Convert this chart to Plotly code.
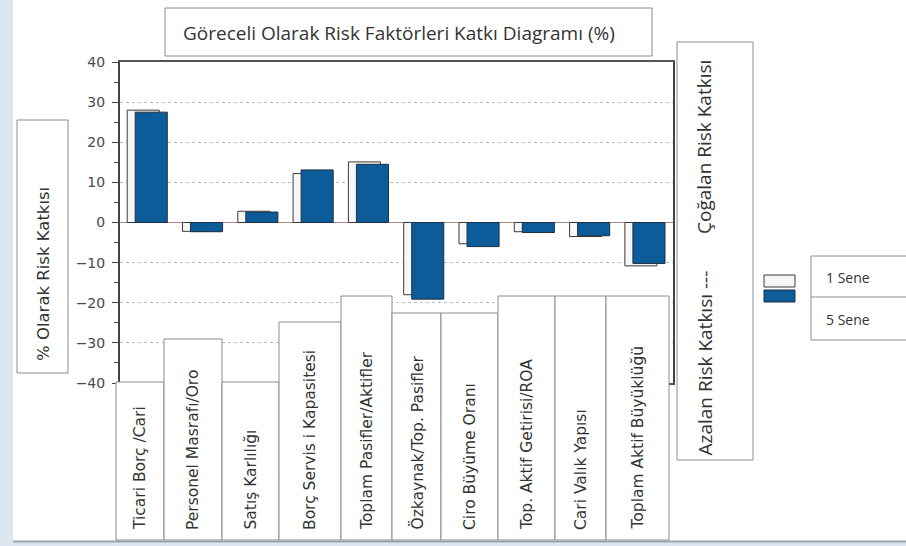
import plotly.graph_objects as go

# ---------------- data ----------------
categories = [
    "Ticari Borç /Cari",
    "Personel Masrafı/Oro",
    "Satış Karlılığı",
    "Borç Servis i Kapasitesi",
    "Toplam Pasifler/Aktifler",
    "Özkaynak/Top. Pasifler",
    "Ciro Büyüme Oranı",
    "Top. Aktif Getirisi/ROA",
    "Cari Valık Yapısı",
    "Toplam Aktif Büyüklüğü",
]
sene1 = [28.0, -2.2, 2.8, 12.2, 15.1, -18.0, -5.3, -2.3, -3.5, -10.8]
sene5 = [27.5, -2.3, 2.6, 13.1, 14.5, -19.1, -6.0, -2.5, -3.3, -10.2]
series_names = ["1 Sene", "5 Sene"]
y_ticks = [-40, -30, -20, -10, 0, 10, 20, 30, 40]

title_text = "Göreceli Olarak Risk Faktörleri Katkı Diagramı (%)"
y_title = "% Olarak Risk Katkısı"
right_low = "Azalan Risk Katkısı ---"
right_high = "Çoğalan Risk Katkısı"

# ---------------- layout geometry (pixels) ----------------
W, H = 906, 546
PL, PR, PT, PB = 120, 673, 62, 383  # plot area


def fx(px):
    return (px - PL) / (PR - PL)


def fy(py):
    return (PB - py) / (PB - PT)


# label boxes below the plot: left, right, top (px)
box_left = [116, 164, 222, 279, 341, 392, 441, 498, 555, 606]
box_right = [164, 222, 279, 341, 392, 441, 498, 555, 606, 669]
box_top = [382, 339, 382, 322, 296, 313, 313, 296, 296, 296]
box_bottom = 540

BLUE = "#0b5c99"
WHITE_BAR = "#f7f7f7"
BOX_LINE = "#8c8c8c"
TEXT = "#333333"
FONT = "Open Sans"
WIDE = "DejaVu Sans"

fig = go.Figure()
fig.add_trace(go.Bar(
    x=categories, y=sene1, name=series_names[0],
    width=0.58, offset=-0.37,
    marker=dict(color=WHITE_BAR, line=dict(color="#3a3a3a", width=1)),
    showlegend=False,
))
fig.add_trace(go.Bar(
    x=categories, y=sene5, name=series_names[1],
    width=0.58, offset=-0.225,
    marker=dict(color=BLUE, line=dict(color="#1d2f45", width=1)),
    showlegend=False,
))

shapes = []
annotations = []

# left window strip & bottom strip
shapes.append(dict(type="rect", xref="paper", yref="paper",
                   x0=fx(0), x1=fx(13), y0=fy(H), y1=fy(0),
                   fillcolor="#dce5f0", line=dict(width=0), layer="below"))
shapes.append(dict(type="rect", xref="paper", yref="paper",
                   x0=fx(0), x1=fx(W), y0=fy(H), y1=fy(541),
                   fillcolor="#dce5f0", line=dict(width=0), layer="below"))
shapes.append(dict(type="line", xref="paper", yref="paper",
                   x0=fx(13), x1=fx(W), y0=fy(541.5), y1=fy(541.5),
                   line=dict(color="#9aa3ad", width=2)))

# category label boxes
for i, cat in enumerate(categories):
    shapes.append(dict(type="rect", xref="paper", yref="paper",
                       x0=fx(box_left[i]), x1=fx(box_right[i]),
                       y0=fy(box_bottom), y1=fy(box_top[i]),
                       fillcolor="white", line=dict(color=BOX_LINE, width=1),
                       layer="above"))
    annotations.append(dict(xref="paper", yref="paper",
                            x=fx((box_left[i] + box_right[i]) / 2), y=fy(532),
                            text=cat, textangle=-90, showarrow=False,
                            xanchor="center", yanchor="bottom",
                            font=dict(family=WIDE, size=15.5, color=TEXT)))

# title box
shapes.append(dict(type="rect", xref="paper", yref="paper",
                   x0=fx(165), x1=fx(652), y0=fy(56), y1=fy(8),
                   fillcolor="white", line=dict(color=BOX_LINE, width=1)))
annotations.append(dict(xref="paper", yref="paper", x=fx(399), y=fy(33),
                        text=title_text, showarrow=False,
                        xanchor="center", yanchor="middle",
                        font=dict(family=FONT, size=19, color=TEXT)))

# y title box
shapes.append(dict(type="rect", xref="paper", yref="paper",
                   x0=fx(17), x1=fx(68), y0=fy(373), y1=fy(120),
                   fillcolor="white", line=dict(color=BOX_LINE, width=1)))
annotations.append(dict(xref="paper", yref="paper", x=fx(43), y=fy(274),
                        text=y_title, textangle=-90, showarrow=False,
                        xanchor="center", yanchor="middle",
                        font=dict(family=WIDE, size=16.5, color=TEXT)))

# right box
shapes.append(dict(type="rect", xref="paper", yref="paper",
                   x0=fx(677), x1=fx(753), y0=fy(460), y1=fy(42),
                   fillcolor="white", line=dict(color=BOX_LINE, width=1)))
annotations.append(dict(xref="paper", yref="paper", x=fx(704), y=fy(458),
                        text=right_low, textangle=-90, showarrow=False,
                        xanchor="center", yanchor="bottom",
                        font=dict(family=FONT, size=19, color=TEXT)))
annotations.append(dict(xref="paper", yref="paper", x=fx(704), y=fy(58),
                        text=right_high, textangle=-90, showarrow=False,
                        xanchor="center", yanchor="top",
                        font=dict(family=FONT, size=19, color=TEXT)))

# legend
shapes.append(dict(type="rect", xref="paper", yref="paper",
                   x0=fx(764), x1=fx(795), y0=fy(287), y1=fy(275),
                   fillcolor=WHITE_BAR, line=dict(color="#3a3a3a", width=1)))
shapes.append(dict(type="rect", xref="paper", yref="paper",
                   x0=fx(764), x1=fx(795), y0=fy(302), y1=fy(290),
                   fillcolor=BLUE, line=dict(color="#1d2f45", width=1)))
shapes.append(dict(type="rect", xref="paper", yref="paper",
                   x0=fx(811), x1=fx(915), y0=fy(340), y1=fy(256),
                   fillcolor="white", line=dict(color=BOX_LINE, width=1)))
shapes.append(dict(type="line", xref="paper", yref="paper",
                   x0=fx(811), x1=fx(906), y0=fy(297), y1=fy(297),
                   line=dict(color=BOX_LINE, width=1)))
for name, py in zip(series_names, [277, 319]):
    annotations.append(dict(xref="paper", yref="paper", x=fx(824), y=fy(py),
                            text=name, showarrow=False,
                            xanchor="left", yanchor="middle",
                            font=dict(family=FONT, size=14, color=TEXT)))

fig.update_layout(
    width=W, height=H,
    margin=dict(l=PL, r=W - PR, t=PT, b=H - PB, pad=0),
    paper_bgcolor="white", plot_bgcolor="white",
    barmode="overlay",
    showlegend=False,
    hovermode=False,
    shapes=shapes, annotations=annotations,
    xaxis=dict(range=[-0.5, len(categories) - 0.5], showticklabels=False,
               ticks="", showgrid=False, showline=True, mirror=True,
               linecolor="#555555", linewidth=2, zeroline=False,
               fixedrange=True),
    yaxis=dict(range=[-40, 40], tickvals=y_ticks, showgrid=True,
               gridcolor="#bdbdbd", griddash="dot", gridwidth=1,
               zeroline=True, zerolinecolor="#b08a7a", zerolinewidth=1,
               showline=True, mirror=True, linecolor="#444444", linewidth=2,
               ticks="outside", ticklen=6, tickcolor="#444444",
               ticklabelstandoff=4,
               minor=dict(dtick=5, ticks="outside", ticklen=4,
                          tickcolor="#444444", showgrid=False),
               tickfont=dict(family=WIDE, size=14, color="#4a4a4a"),
               fixedrange=True),
)

fig.write_html("out.html",
               config={"displayModeBar": False},
               post_script="document.body.style.margin='0';"
                           "document.body.style.padding='0';")
